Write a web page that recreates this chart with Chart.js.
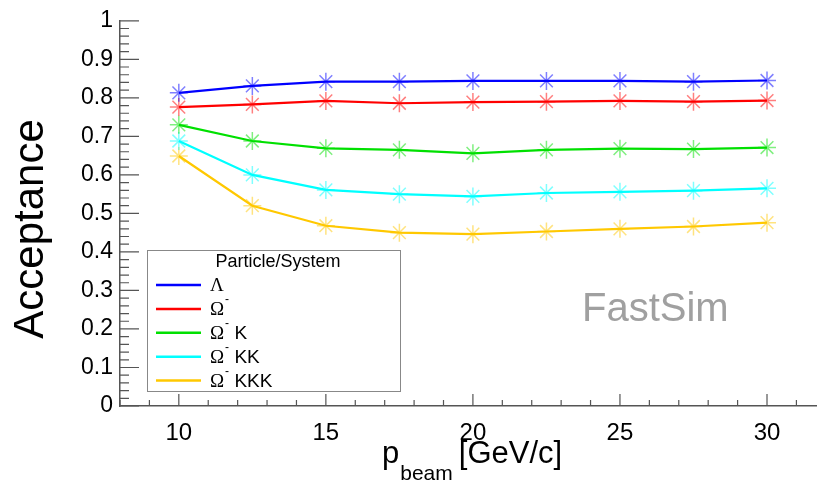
<!DOCTYPE html>
<html>
<head>
<meta charset="utf-8">
<script src="https://cdn.jsdelivr.net/npm/chart.js@4/dist/chart.umd.min.js"></script>
<style>
  body { margin: 0; overflow: hidden; background: #fff; }
  #wrap { width: 817px; height: 482px; }
</style>
</head>
<body>
<div id="wrap"><canvas id="accChart"></canvas></div>
<script>
// beam momenta and acceptance per particle / system
const pBeam = [10, 12.5, 15, 17.5, 20, 22.5, 25, 27.5, 30];
const accLambda = [0.813, 0.831, 0.842, 0.842, 0.844, 0.844, 0.844, 0.842, 0.845];
const accOmega = [0.776, 0.783, 0.792, 0.786, 0.789, 0.790, 0.792, 0.790, 0.793];
const accOmegaK = [0.730, 0.688, 0.669, 0.665, 0.656, 0.665, 0.668, 0.667, 0.671];
const accOmegaKK = [0.688, 0.600, 0.561, 0.550, 0.544, 0.553, 0.556, 0.559, 0.565];
const accOmegaKKK = [0.649, 0.520, 0.468, 0.450, 0.446, 0.453, 0.460, 0.466, 0.476];

const seriesNames = ['Λ', 'Ω⁻', 'Ω⁻ K', 'Ω⁻ KK', 'Ω⁻ KKK'];
const seriesColors = ['#0000ff', '#ff0000', '#00e000', '#00ffff', '#ffc800'];
const markerColors = ['rgba(0,0,255,0.5)', 'rgba(255,0,0,0.5)', 'rgba(0,224,0,0.5)', 'rgba(0,255,255,0.5)', 'rgba(255,200,0,0.5)'];
const allSeries = [accLambda, accOmega, accOmegaK, accOmegaKK, accOmegaKKK];

const FONT = "'Liberation Sans', Arial, sans-serif";

// ROOT-like inward ticks, axis titles, legend box and label
const extras = {
  id: 'extras',
  afterDraw(chart) {
    const ctx = chart.ctx;
    const xs = chart.scales.x, ys = chart.scales.y;
    const a = chart.chartArea;
    ctx.save();
    ctx.strokeStyle = '#555';
    ctx.lineWidth = 1.2;
    ctx.beginPath();
    for (let v = 8; v <= xs.max; v++) {
      const px = xs.getPixelForValue(v);
      const len = v % 5 === 0 ? 12 : 6;
      ctx.moveTo(px, a.bottom);
      ctx.lineTo(px, a.bottom - len);
    }
    for (let i = 0; i <= 50; i++) {
      const py = ys.getPixelForValue(i * 0.02);
      const len = i % 5 === 0 ? 19 : 9;
      ctx.moveTo(a.left, py);
      ctx.lineTo(a.left + len, py);
    }
    ctx.stroke();

    // y title
    ctx.fillStyle = '#000';
    ctx.font = '42px ' + FONT;
    ctx.save();
    ctx.translate(43, 229);
    ctx.rotate(-Math.PI / 2);
    ctx.textAlign = 'center';
    ctx.textBaseline = 'alphabetic';
    ctx.fillText('Acceptance', 0, 0);
    ctx.restore();

    // x title
    ctx.textAlign = 'left';
    ctx.textBaseline = 'alphabetic';
    let tx = 382;
    ctx.font = '31px ' + FONT;
    ctx.fillText('p', tx, 463);
    tx += ctx.measureText('p').width + 1;
    ctx.font = '21px ' + FONT;
    ctx.fillText('beam', tx, 480);
    tx += ctx.measureText('beam').width + 6;
    ctx.font = '31px ' + FONT;
    ctx.fillText('[GeV/c]', tx, 463);

    // FastSim label
    ctx.fillStyle = '#a0a0a0';
    ctx.font = '40px ' + FONT;
    ctx.fillText('FastSim', 582, 321);

    // legend
    ctx.fillStyle = '#fff';
    ctx.fillRect(147, 250, 254, 142);
    ctx.strokeStyle = '#888';
    ctx.lineWidth = 1;
    ctx.strokeRect(147.5, 250.5, 253, 141);
    ctx.fillStyle = '#000';
    ctx.font = '18px ' + FONT;
    ctx.textAlign = 'center';
    ctx.textBaseline = 'middle';
    ctx.fillText('Particle/System', 278, 262);
    ctx.textAlign = 'left';
    chart.data.datasets.forEach((ds, i) => {
      const yy = 285 + i * 23.9;
      ctx.strokeStyle = ds.borderColor;
      ctx.lineWidth = 2.5;
      ctx.beginPath();
      ctx.moveTo(156, yy);
      ctx.lineTo(201, yy);
      ctx.stroke();
      const parts = ds.label.split('⁻');
      let lx = 210;
      ctx.fillStyle = '#000';
      ctx.font = '19px "Liberation Serif", serif';
      ctx.fillText(parts[0], lx, yy + 1);
      lx += ctx.measureText(parts[0]).width;
      if (parts.length > 1) {
        ctx.font = '12px ' + FONT;
        ctx.fillText('-', lx + 1, yy - 9);
        lx += 5;
        ctx.font = '19px ' + FONT;
        ctx.fillText(parts[1], lx, yy + 1);
      }
    });
    ctx.restore();
  }
};

const chart_ctx = document.getElementById('accChart');
var accChart = new Chart(chart_ctx, {
  type: 'line',
  data: {
    datasets: allSeries.map((vals, i) => ({
      label: seriesNames[i],
      data: pBeam.map((p, k) => ({ x: p, y: vals[k] })),
      borderColor: seriesColors[i],
      borderWidth: 2.2,
      pointStyle: 'star',
      pointRadius: 9,
      pointBorderWidth: 1.5,
      pointBorderColor: markerColors[i],
      pointBackgroundColor: markerColors[i],
      tension: 0,
      fill: false
    }))
  },
  options: {
    responsive: true,
    maintainAspectRatio: false,
    animation: false,
    layout: { autoPadding: false, padding: { top: 19, right: 0, left: 0, bottom: 0 } },
    plugins: {
      legend: { display: false },
      tooltip: { enabled: false }
    },
    scales: {
      x: {
        type: 'linear',
        min: 8,
        max: 31.7,
        afterFit: (scale) => {
          scale.height = 76;
          scale.paddingLeft = 0;
          scale.paddingRight = 0;
        },
        grid: { display: false, drawTicks: false },
        border: { display: true, color: '#555', width: 1.5 },
        ticks: {
          stepSize: 1,
          autoSkip: false,
          maxRotation: 0,
          padding: 13,
          color: '#000',
          font: { family: FONT, size: 24 },
          callback: (v) => (v % 5 === 0 && v >= 10 && v <= 30) ? String(v) : ''
        }
      },
      y: {
        min: 0,
        max: 1,
        afterFit: (scale) => { scale.width = 120; },
        grid: { display: false, drawTicks: false },
        border: { display: true, color: '#555', width: 1.5 },
        ticks: {
          stepSize: 0.1,
          padding: 7,
          color: '#000',
          font: { family: FONT, size: 23 },
          callback: (v) => String(+v.toFixed(1))
        }
      }
    }
  },
  plugins: [extras]
});
</script>
</body>
</html>
